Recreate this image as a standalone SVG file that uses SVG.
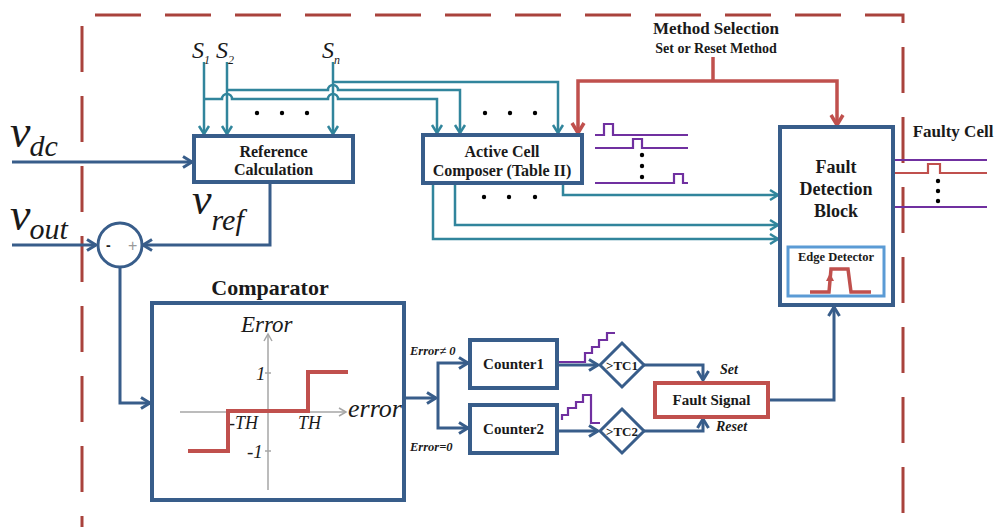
<svg xmlns="http://www.w3.org/2000/svg" width="998" height="527" viewBox="0 0 998 527">
<defs>
<style>
.bx{fill:#fff;stroke:#385D8A;stroke-width:4}
.nv{fill:none;stroke:#385D8A;stroke-width:3}
.tl{fill:none;stroke:#31859C;stroke-width:2.5}
.rd{fill:none;stroke:#C0504D;stroke-width:3.5}
.pu{fill:none;stroke:#7030A0;stroke-width:2.2}
.ax{fill:none;stroke:#A6A6A6;stroke-width:1.5}
.t{font-family:"Liberation Serif","Times New Roman",serif;font-weight:bold;fill:#1a1a1a;text-anchor:middle}
.it{font-family:"Liberation Serif","Times New Roman",serif;font-style:italic;fill:#1a1a1a}
.dot{fill:#000}
</style>
<marker id="aN" markerUnits="userSpaceOnUse" markerWidth="14" markerHeight="14" viewBox="0 0 14 14" refX="12" refY="7" orient="auto"><path d="M3,1.5 L12,7 L3,12.5" fill="none" stroke="#385D8A" stroke-width="3"/></marker>
<marker id="aT" markerUnits="userSpaceOnUse" markerWidth="14" markerHeight="14" viewBox="0 0 14 14" refX="12" refY="7" orient="auto"><path d="M4,2 L12,7 L4,12" fill="none" stroke="#31859C" stroke-width="2.5"/></marker>
<marker id="aR" markerUnits="userSpaceOnUse" markerWidth="16" markerHeight="16" viewBox="0 0 16 16" refX="14" refY="8" orient="auto"><path d="M4,2 L14,8 L4,14" fill="none" stroke="#C0504D" stroke-width="3.5"/></marker>
<marker id="aG" markerUnits="userSpaceOnUse" markerWidth="12" markerHeight="12" viewBox="0 0 12 12" refX="10" refY="6" orient="auto"><path d="M3,2 L10,6 L3,10" fill="none" stroke="#A6A6A6" stroke-width="1.5"/></marker>
</defs>
<rect width="998" height="527" fill="#fff"/>

<path d="M82,527 L82,15 L903,15 L903,527" fill="none" stroke="#A9423C" stroke-width="3" stroke-dasharray="46 24" stroke-dashoffset="35"/>

<g id="connectors">
  <path class="tl" d="M204,62 V134" marker-end="url(#aT)"/>
  <path class="tl" d="M227,62 V134" marker-end="url(#aT)"/>
  <path class="tl" d="M333,62 V134" marker-end="url(#aT)"/>
  <path class="tl" d="M204,99 H222 a5,5 0 0 1 10,0 H328 a5,5 0 0 1 10,0 H437 V133" marker-end="url(#aT)"/>
  <path class="tl" d="M227,90 H328 a5,5 0 0 1 10,0 H460 V133" marker-end="url(#aT)"/>
  <path class="tl" d="M333,82 H558 V133" marker-end="url(#aT)"/>
  <path class="tl" d="M563,183 V195 H778" marker-end="url(#aT)"/>
  <path class="tl" d="M455,183 V225 H778" marker-end="url(#aT)"/>
  <path class="tl" d="M433,183 V239 H778" marker-end="url(#aT)"/>
  <path class="rd" d="M713,57 V81"/>
  <path class="rd" d="M713,81 H578 V133" marker-end="url(#aR)"/>
  <path class="rd" d="M713,81 H837 V125" marker-end="url(#aR)"/>
  <path class="nv" d="M12,162 H192" marker-end="url(#aN)"/>
  <path class="nv" d="M12,245 H96" marker-end="url(#aN)"/>
  <path class="nv" d="M270,182 V245 H143" marker-end="url(#aN)"/>
  <path class="nv" d="M120,267 V403 H150" marker-end="url(#aN)"/>
  <path class="nv" d="M404,398 H436" marker-end="url(#aN)"/>
  <path class="nv" d="M438,398 V363 H468" marker-end="url(#aN)"/>
  <path class="nv" d="M438,398 V428 H468" marker-end="url(#aN)"/>
  <path class="nv" d="M557,365 H598" marker-end="url(#aN)"/>
  <path class="nv" d="M557,431 H598" marker-end="url(#aN)"/>
  <path class="nv" d="M644,365 H703 V380" marker-end="url(#aN)"/>
  <path class="nv" d="M644,431 H703 V419" marker-end="url(#aN)"/>
  <path class="nv" d="M768,400 H834 V307" marker-end="url(#aN)"/>
</g>

<g id="labels-signals">
  <text class="it" x="10" y="147" font-size="46">v<tspan font-size="30" dx="-1" dy="9">dc</tspan></text>
  <text class="it" x="10" y="230" font-size="46">v<tspan font-size="30" dx="-1" dy="9">out</tspan></text>
  <text class="it" x="192" y="214" font-size="44">v<tspan font-size="30" dy="16">ref</tspan></text>
  <text class="it" x="192" y="58" font-size="24">S<tspan font-size="12" dy="6">1</tspan></text>
  <text class="it" x="216" y="58" font-size="24">S<tspan font-size="12" dy="6">2</tspan></text>
  <text class="it" x="322" y="58" font-size="24">S<tspan font-size="12" dy="6">n</tspan></text>
  <circle class="dot" cx="257" cy="113" r="2.2"/><circle class="dot" cx="282" cy="113" r="2.2"/><circle class="dot" cx="307" cy="113" r="2.2"/>
  <circle class="dot" cx="485" cy="113" r="2.2"/><circle class="dot" cx="510" cy="113" r="2.2"/><circle class="dot" cx="535" cy="113" r="2.2"/>
  <circle class="dot" cx="484" cy="197" r="2.2"/><circle class="dot" cx="509" cy="197" r="2.2"/><circle class="dot" cx="535" cy="197" r="2.2"/>
  <text class="t" x="716" y="34" font-size="17">Method Selection</text>
  <text class="t" x="716" y="53" font-size="14">Set or Reset Method</text>
  <text class="t" x="953" y="137" font-size="17">Faulty Cell</text>
</g>

<g id="waveforms">
  <path class="pu" d="M595,135 H604 V124 H613 V135 H688"/>
  <path class="pu" d="M595,148 H633 V139 H642 V148 H688"/>
  <circle class="dot" cx="642" cy="155" r="2.2"/><circle class="dot" cx="642" cy="166" r="2.2"/><circle class="dot" cx="642" cy="177" r="2.2"/>
  <path class="pu" d="M595,183 H674 V174 H683 V183 H688"/>
  <path class="pu" d="M893,160 H987"/>
  <path fill="none" stroke="#C0504D" stroke-width="2.2" d="M893,173 H928 V164 H940 V173 H987"/>
  <circle class="dot" cx="938" cy="181" r="2.2"/><circle class="dot" cx="938" cy="191" r="2.2"/><circle class="dot" cx="938" cy="201" r="2.2"/>
  <path class="pu" d="M893,207 H987"/>
  <path class="pu" d="M557,362 H585 V353 H592 V347 H599 V340 H607 V333 H615"/>
  <path class="pu" d="M562,420 V415 H568 V408 H576 V402 H583 V395 H591 V423 H600"/>
</g>

<g id="ref-calc">
  <rect class="bx" x="194" y="136" width="159" height="46"/>
  <text class="t" x="273.5" y="157" font-size="16">Reference</text>
  <text class="t" x="273.5" y="175" font-size="16">Calculation</text>
</g>

<g id="active-cell">
  <rect class="bx" x="423" y="135" width="159" height="48"/>
  <text class="t" x="502" y="157" font-size="16">Active Cell</text>
  <text class="t" x="502" y="176" font-size="16">Composer (Table II)</text>
</g>

<g id="fault-detection">
  <rect class="bx" x="780" y="127" width="113" height="178"/>
  <text class="t" x="836" y="173" font-size="18">Fault</text>
  <text class="t" x="836" y="195" font-size="18">Detection</text>
  <text class="t" x="836" y="217" font-size="18">Block</text>
  <g id="edge-detector">
    <rect x="788" y="247" width="96" height="49" fill="#fff" stroke="#5B9BD5" stroke-width="3"/>
    <text class="t" x="836" y="261" font-size="12.5">Edge Detector</text>
    <path d="M810,292 H829 L831,269 H848 L851,292 H871" fill="none" stroke="#C0504D" stroke-width="3.5"/>
    <path d="M826,281 L830,273 L834,281 Z" fill="#C0504D"/>
  </g>
</g>

<g id="summer">
  <circle cx="120" cy="245" r="22" fill="#fff" stroke="#385D8A" stroke-width="3"/>
  <text x="106" y="250" font-family="Liberation Sans, Arial, sans-serif" font-size="14" font-weight="bold" fill="#222">-</text>
  <text x="128" y="251" font-family="Liberation Sans, Arial, sans-serif" font-size="16" fill="#999">+</text>
</g>

<g id="comparator">
  <text class="t" x="270" y="295" font-size="22">Comparator</text>
  <rect class="bx" x="152" y="303" width="252" height="197"/>
  <path class="ax" d="M268,490 V334" marker-end="url(#aG)"/>
  <path class="ax" d="M180,412 H346" marker-end="url(#aG)"/>
  <path class="ax" d="M265,373 H271 M265,451 H271"/>
  <text class="it" x="241" y="332" font-size="23">Error</text>
  <text class="it" x="348" y="417" font-size="26">error</text>
  <text class="it" x="256" y="380" font-size="19">1</text>
  <text class="it" x="247" y="458" font-size="19">-1</text>
  <text class="it" x="229" y="429" font-size="18">-TH</text>
  <text class="it" x="298" y="429" font-size="18">TH</text>
  <path d="M188,451 H228 V411 H308 V372 H348" fill="none" stroke="#C0504D" stroke-width="4"/>
</g>

<g id="counter1">
  <rect class="bx" x="470" y="340" width="87" height="48"/>
  <text class="t" x="513.5" y="369" font-size="15">Counter1</text>
  <text class="it" x="410" y="355" font-size="12.5" font-weight="bold">Error≠ 0</text>
</g>
<g id="counter2">
  <rect class="bx" x="470" y="405" width="87" height="48"/>
  <text class="t" x="513.5" y="434" font-size="15">Counter2</text>
  <text class="it" x="410" y="451" font-size="12.5" font-weight="bold">Error=0</text>
</g>
<g id="tc1">
  <path d="M622,343 L644,365 L622,387 L600,365 Z" fill="#fff" stroke="#385D8A" stroke-width="3"/>
  <text class="t" x="622" y="370" font-size="13" font-weight="normal">&gt;TC1</text>
</g>
<g id="tc2">
  <path d="M622,409 L644,431 L622,453 L600,431 Z" fill="#fff" stroke="#385D8A" stroke-width="3"/>
  <text class="t" x="622" y="436" font-size="13" font-weight="normal">&gt;TC2</text>
</g>
<g id="fault-signal">
  <rect x="655" y="383" width="113" height="34" fill="#fff" stroke="#C0504D" stroke-width="4"/>
  <text class="t" x="711.5" y="405" font-size="15">Fault Signal</text>
  <text class="it" x="720" y="374" font-size="14" font-weight="bold">Set</text>
  <text class="it" x="716" y="431" font-size="14" font-weight="bold">Reset</text>
</g>
</svg>
